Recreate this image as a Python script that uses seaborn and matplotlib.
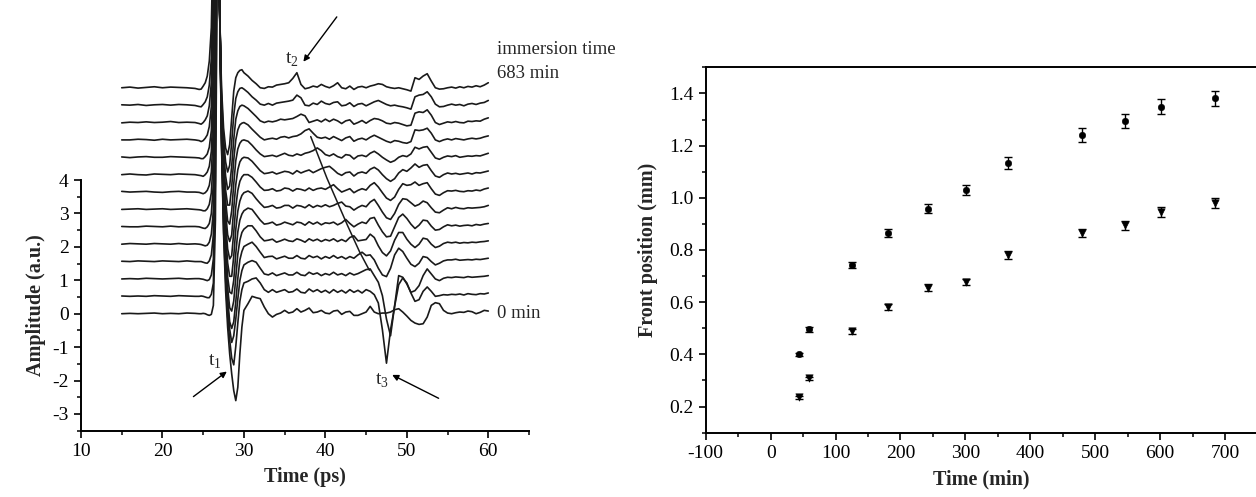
"""THz waveforms during immersion and front position vs time"""

import numpy as np
import pandas as pd
import seaborn as sns
import matplotlib.pyplot as plt
from matplotlib.ticker import MultipleLocator

# ---------------- data: left panel (waveforms) ----------------
# shared time grid (ps): coarse before the pulse, fine on the pulse, 0.5 ps after
time_ps = np.concatenate([np.arange(15, 25, 1.0),
                          np.arange(24.5, 30.01, 0.25),
                          np.arange(30.5, 60.01, 0.5)])

# vertical offset of every trace, bottom (0 min) to top (683 min)
trace_offsets = [0.0, 0.52, 1.04, 1.56, 2.08, 2.6, 3.12, 3.64, 4.16, 4.68, 5.2, 5.72, 6.24, 6.76]

# amplitude of each trace relative to its baseline, bottom to top
traces_rel = [
    # 0 min
    [0.0, 0.01, 0.0, 0.01, 0.02, 0.0, 0.01, 0.0, 0.02, 0.01,
     0.0, 0.0, 0.01, 0.0, -0.03, -0.05, -0.02, 0.25, 2.8, 11.5, 9.5, 5.0, 2.4, 0.7, -0.4, -1.2, -1.8, -2.3, -2.6, -2.2, -1.2, -0.4, 0.1,
     0.3, 0.52, 0.48, 0.45, 0.2, 0.0, -0.1, -0.02, 0.02, 0.1,
     0.02, 0.05, 0.15, 0.05, 0.1, 0.17, 0.03, 0.05, 0.1, 0.02,
     0.0, 0.08, 0.1, -0.02, 0.05, 0.07, -0.05, -0.05, 0.0, 0.05,
     0.22, 0.05, 0.0, 0.02, 0.02, 0.05, 0.12, 0.15, 0.05, -0.07,
     -0.2, -0.28, -0.32, -0.3, -0.1, 0.25, 0.33, 0.3, 0.1, 0.02,
     0.0, 0.03, 0.05, 0.04, 0.08, 0.06, 0.0, 0.04, 0.1, 0.08],
    [0.01, 0.0, 0.01, 0.0, 0.02, 0.01, 0.0, 0.02, 0.01, 0.0,
     0.0, 0.01, 0.0, -0.02, -0.04, -0.04, 0.06, 0.4, 3.5, 12.0, 9.0, 4.6, 2.0, 0.5, -0.6, -1.3, -1.85, -2.05, -1.5, -0.8, -0.15, 0.2, 0.4,
     0.45, 0.52, 0.55, 0.4, 0.2, 0.12, 0.2, 0.12, 0.16, 0.2,
     0.12, 0.14, 0.22, 0.12, 0.1, 0.22, 0.14, 0.2, 0.12, 0.18,
     0.1, 0.2, 0.12, 0.18, 0.1, 0.2, 0.12, 0.18, 0.1, 0.2,
     0.15, 0.05, -0.2, -1.0, -2.0, -1.0, -0.3, 0.35, 0.55, 0.4,
     0.1, -0.15, -0.1, 0.15, 0.28, 0.15, 0.0, 0.02, 0.05, 0.04,
     0.06, 0.05, 0.07, 0.04, 0.08, 0.06, 0.05, 0.08, 0.07, 0.1],
    [0.0, 0.01, 0.0, 0.02, 0.01, 0.0, 0.01, 0.02, 0.0, 0.01,
     0.01, 0.0, -0.01, -0.03, -0.05, -0.02, 0.12, 0.6, 4.5, 12.0, 8.5, 4.2, 1.8, 0.3, -0.8, -1.5, -1.9, -1.7, -1.2, -0.6, -0.05, 0.25, 0.42,
     0.5, 0.55, 0.5, 0.32, 0.15, 0.12, 0.18, 0.1, 0.14, 0.18,
     0.12, 0.12, 0.2, 0.12, 0.1, 0.2, 0.14, 0.18, 0.1, 0.16,
     0.12, 0.2, 0.12, 0.16, 0.1, 0.18, 0.12, 0.16, 0.22, 0.28,
     0.3, 0.1, -0.1, -0.5, -1.2, -1.7, -0.8, 0.1, 0.05, -0.15,
     -0.4, -0.35, -0.2, 0.1, 0.3, 0.15, 0.0, -0.05, 0.02, 0.05,
     0.04, 0.06, 0.05, 0.04, 0.07, 0.05, 0.06, 0.07, 0.08, 0.1],
    [0.01, 0.0, 0.02, 0.01, 0.0, 0.02, 0.01, 0.0, 0.02, 0.0,
     0.0, 0.0, -0.02, -0.04, -0.05, 0.02, 0.2, 0.8, 5.5, 12.0, 8.0, 3.8, 1.5, 0.0, -1.1, -1.8, -2.0, -1.8, -1.2, -0.5, 0.05, 0.3, 0.45,
     0.52, 0.58, 0.45, 0.28, 0.12, 0.15, 0.16, 0.08, 0.12, 0.16,
     0.1, 0.1, 0.18, 0.1, 0.08, 0.18, 0.12, 0.16, 0.08, 0.15,
     0.1, 0.18, 0.1, 0.15, 0.08, 0.15, 0.1, 0.2, 0.28, 0.18,
     0.2, 0.05, -0.2, -0.4, -0.45, -0.2, 0.2, 0.4, 0.3, 0.1,
     -0.08, -0.15, -0.05, 0.15, 0.12, 0.0, -0.1, -0.05, 0.02, 0.05,
     0.05, 0.07, 0.04, 0.05, 0.06, 0.05, 0.07, 0.06, 0.08, 0.1],
    [0.0, 0.02, 0.01, 0.0, 0.02, 0.01, 0.0, 0.02, 0.0, 0.01,
     0.0, -0.01, -0.03, -0.05, -0.03, 0.06, 0.3, 1.0, 6.5, 12.0, 7.5, 3.4, 1.2, -0.3, -1.3, -1.9, -2.0, -1.7, -1.0, -0.3, 0.12, 0.35, 0.45,
     0.55, 0.55, 0.4, 0.22, 0.1, 0.12, 0.15, 0.06, 0.1, 0.15,
     0.1, 0.08, 0.16, 0.12, 0.06, 0.16, 0.1, 0.15, 0.08, 0.14,
     0.1, 0.16, 0.08, 0.14, 0.08, 0.2, 0.25, 0.1, 0.12, 0.14,
     0.3, 0.2, -0.05, -0.25, -0.35, -0.2, 0.12, 0.35, 0.35, 0.15,
     0.0, -0.1, 0.0, 0.18, 0.15, 0.0, -0.1, -0.06, 0.02, 0.06,
     0.04, 0.06, 0.03, 0.05, 0.04, 0.06, 0.05, 0.07, 0.08, 0.1],
    [0.01, 0.0, 0.0, 0.02, 0.01, 0.0, 0.02, 0.0, 0.01, 0.01,
     0.0, -0.02, -0.04, -0.05, 0.0, 0.1, 0.4, 1.3, 7.2, 12.0, 7.0, 3.0, 0.9, -0.5, -1.5, -1.95, -2.0, -1.6, -0.8, -0.15, 0.2, 0.38, 0.48,
     0.56, 0.52, 0.36, 0.2, 0.08, 0.1, 0.14, 0.05, 0.08, 0.14,
     0.1, 0.06, 0.14, 0.12, 0.05, 0.15, 0.08, 0.14, 0.06, 0.12,
     0.1, 0.14, 0.06, 0.12, 0.22, 0.1, 0.0, 0.08, 0.14, 0.1,
     0.25, 0.28, 0.05, -0.15, -0.3, -0.28, 0.0, 0.28, 0.38, 0.25,
     0.08, -0.05, 0.05, 0.2, 0.18, 0.02, -0.1, -0.08, 0.0, 0.06,
     0.03, 0.05, 0.02, 0.04, 0.05, 0.03, 0.07, 0.05, 0.08, 0.1],
    [0.0, 0.01, 0.02, 0.0, 0.01, 0.02, 0.0, 0.01, 0.02, 0.0,
     -0.01, -0.02, -0.04, -0.04, 0.02, 0.15, 0.5, 1.6, 8.0, 11.5, 6.5, 2.6, 0.6, -0.7, -1.6, -2.0, -2.0, -1.4, -0.6, -0.05, 0.25, 0.42, 0.5,
     0.55, 0.48, 0.32, 0.18, 0.06, 0.08, 0.12, 0.04, 0.06, 0.12,
     0.12, 0.04, 0.12, 0.1, 0.05, 0.14, 0.06, 0.12, 0.08, 0.14,
     0.08, 0.12, 0.18, 0.22, 0.1, 0.08, -0.02, 0.06, 0.12, 0.08,
     0.22, 0.3, 0.12, -0.08, -0.25, -0.3, -0.12, 0.15, 0.32, 0.3,
     0.2, 0.1, 0.15, 0.25, 0.2, 0.05, -0.08, -0.1, -0.02, 0.05,
     0.02, 0.06, 0.03, 0.02, 0.05, 0.04, 0.05, 0.06, 0.08, 0.12],
    [0.02, 0.0, 0.01, 0.02, 0.0, -0.01, 0.01, 0.02, 0.0, 0.0,
     -0.01, -0.03, -0.05, -0.02, 0.05, 0.2, 0.6, 1.9, 8.5, 11.0, 6.0, 2.2, 0.3, -0.9, -1.7, -2.0, -1.9, -1.2, -0.45, 0.05, 0.32, 0.45, 0.52,
     0.52, 0.44, 0.3, 0.15, 0.05, 0.06, 0.1, 0.03, 0.05, 0.12,
     0.1, 0.03, 0.1, 0.08, 0.04, 0.12, 0.05, 0.1, 0.12, 0.08,
     0.15, 0.22, 0.1, 0.0, 0.05, 0.1, -0.02, 0.05, 0.1, 0.06,
     0.2, 0.28, 0.15, -0.02, -0.18, -0.25, -0.15, 0.08, 0.25, 0.2,
     0.22, 0.3, 0.2, 0.25, 0.28, 0.1, -0.06, -0.1, -0.02, 0.04,
     0.03, 0.05, 0.02, 0.01, 0.04, 0.03, 0.06, 0.04, 0.09, 0.12],
    [0.0, 0.02, 0.0, -0.01, 0.02, 0.01, 0.0, 0.02, 0.01, 0.0,
     -0.02, -0.03, -0.05, 0.0, 0.08, 0.25, 0.7, 2.2, 9.0, 10.5, 5.5, 1.8, 0.0, -1.1, -1.8, -2.0, -1.8, -1.0, -0.3, 0.15, 0.38, 0.48, 0.52,
     0.5, 0.4, 0.26, 0.12, 0.03, 0.05, 0.08, 0.02, 0.06, 0.1,
     0.08, 0.02, 0.12, 0.05, 0.1, 0.14, 0.06, 0.12, 0.18, 0.22,
     0.25, 0.15, 0.04, -0.02, 0.06, 0.08, -0.04, 0.05, 0.08, 0.04,
     0.16, 0.22, 0.14, 0.0, -0.12, -0.2, -0.12, 0.05, 0.15, 0.1,
     0.2, 0.32, 0.22, 0.28, 0.3, 0.12, -0.04, -0.08, 0.0, 0.05,
     0.02, 0.04, 0.01, 0.03, 0.05, 0.02, 0.06, 0.05, 0.08, 0.11],
    [0.01, -0.01, 0.01, 0.02, 0.0, 0.0, 0.02, 0.01, 0.0, -0.01,
     -0.02, -0.04, -0.04, 0.02, 0.1, 0.3, 0.8, 2.6, 9.8, 10.0, 4.8, 1.3, -0.3, -1.3, -1.9, -2.0, -1.6, -0.8, -0.1, 0.25, 0.42, 0.5, 0.52,
     0.48, 0.36, 0.22, 0.1, 0.02, 0.04, 0.06, 0.02, 0.07, 0.12,
     0.06, 0.04, 0.1, 0.06, 0.12, 0.15, 0.2, 0.28, 0.2, 0.08,
     0.04, 0.1, 0.02, -0.02, 0.08, 0.06, -0.05, 0.04, 0.06, 0.02,
     0.12, 0.18, 0.1, 0.0, -0.08, -0.15, -0.1, 0.0, 0.05, 0.02,
     0.1, 0.3, 0.25, 0.3, 0.32, 0.15, -0.02, -0.06, 0.0, 0.04,
     0.02, 0.05, 0.0, 0.02, 0.04, 0.03, 0.05, 0.04, 0.08, 0.12],
    [0.0, 0.0, 0.02, 0.01, -0.01, 0.02, 0.0, 0.01, 0.02, 0.0,
     -0.02, -0.05, -0.02, 0.05, 0.15, 0.4, 1.0, 3.2, 10.5, 9.5, 4.0, 0.9, -0.6, -1.5, -1.95, -1.95, -1.4, -0.6, 0.0, 0.3, 0.45, 0.5, 0.52,
     0.45, 0.32, 0.2, 0.08, 0.0, 0.03, 0.05, 0.02, 0.08, 0.1,
     0.06, 0.1, 0.12, 0.18, 0.28, 0.33, 0.2, 0.08, 0.05, 0.08,
     0.02, 0.1, 0.04, -0.02, 0.06, 0.1, -0.04, 0.02, 0.05, 0.0,
     0.08, 0.14, 0.08, 0.02, -0.04, -0.08, -0.02, -0.04, -0.08, -0.1,
     -0.05, 0.3, 0.28, 0.3, 0.35, 0.2, 0.0, -0.05, 0.0, 0.03,
     0.0, 0.04, 0.02, 0.0, 0.03, 0.05, 0.03, 0.05, 0.09, 0.12],
    [-0.01, 0.01, 0.0, 0.02, 0.0, 0.01, 0.03, 0.0, 0.01, 0.0,
     -0.03, -0.05, 0.0, 0.08, 0.2, 0.5, 1.2, 3.8, 11.0, 9.0, 3.5, 0.6, -0.8, -1.6, -2.0, -1.9, -1.3, -0.5, 0.1, 0.35, 0.48, 0.52, 0.5,
     0.42, 0.3, 0.18, 0.05, 0.0, 0.04, 0.02, 0.05, 0.1, 0.08,
     0.1, 0.12, 0.18, 0.25, 0.2, 0.0, 0.04, 0.08, 0.02, 0.1,
     0.03, 0.1, 0.05, -0.03, 0.05, 0.08, -0.05, 0.0, 0.06, -0.02,
     0.06, 0.12, 0.1, 0.05, -0.02, -0.04, 0.0, -0.02, -0.06, -0.1,
     -0.08, 0.28, 0.32, 0.3, 0.38, 0.22, 0.0, -0.06, -0.02, 0.02,
     0.0, 0.03, 0.0, -0.01, 0.04, 0.03, 0.05, 0.04, 0.1, 0.14],
    [0.01, 0.0, 0.02, -0.01, 0.01, 0.02, 0.0, 0.02, 0.01, -0.01,
     -0.04, -0.05, 0.02, 0.1, 0.25, 0.6, 1.4, 4.2, 11.5, 8.5, 3.0, 0.3, -1.0, -1.7, -2.0, -1.8, -1.1, -0.3, 0.2, 0.4, 0.5, 0.52, 0.48,
     0.38, 0.25, 0.15, 0.03, 0.0, 0.05, 0.0, 0.06, 0.08, 0.1,
     0.12, 0.15, 0.3, 0.22, 0.0, -0.02, 0.06, 0.02, 0.12, 0.05,
     0.02, 0.08, 0.1, -0.02, 0.0, 0.07, -0.04, 0.03, 0.05, -0.02,
     0.04, 0.1, 0.14, 0.08, 0.02, -0.02, 0.0, -0.03, -0.05, -0.08,
     -0.12, 0.25, 0.3, 0.32, 0.4, 0.25, 0.03, -0.05, -0.04, 0.0,
     0.03, 0.0, 0.02, -0.02, 0.03, 0.05, 0.02, 0.06, 0.08, 0.14],
    # 683 min
    [0.0, 0.02, -0.01, 0.01, 0.03, 0.0, 0.02, 0.01, 0.0, -0.02,
     -0.05, -0.04, 0.05, 0.15, 0.35, 0.8, 1.8, 5.0, 12.0, 7.5, 2.5, 0.0, -1.2, -1.8, -2.0, -1.7, -0.9, -0.1, 0.3, 0.45, 0.52, 0.54, 0.45,
     0.35, 0.22, 0.12, 0.0, -0.02, 0.03, 0.02, 0.08, 0.1, 0.12,
     0.15, 0.28, 0.45, 0.1, -0.03, 0.0, 0.05, 0.02, 0.1, 0.04,
     0.0, 0.06, 0.15, 0.0, -0.03, 0.05, -0.05, 0.02, 0.04, 0.0,
     0.05, 0.08, 0.12, 0.1, 0.03, 0.0, -0.02, 0.0, -0.03, -0.06,
     -0.1, 0.3, 0.25, 0.35, 0.42, 0.2, 0.0, -0.04, -0.03, 0.0,
     0.02, -0.01, 0.03, 0.0, 0.04, 0.02, 0.06, 0.03, 0.08, 0.15],
]

# guide line following the moving reflection t2
guide_t = [38.2, 40.2, 42.7, 44.2, 45.4]
guide_amp = [5.3, 4.05, 2.65, 1.85, 1.3]

# ---------------- data: right panel (front position) ----------------
time_min = [43, 59, 126, 181, 243, 301, 366, 480, 546, 601, 684]
front_circle = [0.40, 0.496, 0.743, 0.865, 0.959, 1.029, 1.133, 1.240, 1.296, 1.350, 1.381]
err_circle = [0.007, 0.009, 0.011, 0.015, 0.019, 0.020, 0.024, 0.027, 0.027, 0.027, 0.028]
front_triangle = [0.236, 0.309, 0.488, 0.582, 0.655, 0.677, 0.781, 0.865, 0.894, 0.945, 0.980]
err_triangle = [0.006, 0.006, 0.009, 0.011, 0.014, 0.012, 0.015, 0.014, 0.017, 0.019, 0.019]

# ---------------- style ----------------
sns.set_theme(style='ticks')
plt.rcParams['font.family'] = ['Liberation Serif', 'DejaVu Serif']
plt.rcParams['mathtext.fontset'] = 'custom'
plt.rcParams['mathtext.rm'] = 'Liberation Serif'
plt.rcParams['axes.unicode_minus'] = False
plt.rcParams['axes.linewidth'] = 1.4
plt.rcParams['axes.edgecolor'] = 'black'
plt.rcParams['xtick.color'] = 'black'
plt.rcParams['ytick.color'] = 'black'

fig = plt.figure(figsize=(12.56, 4.97), dpi=100)
ax1 = fig.add_axes([0.0645, 0.1334, 0.3567, 0.5044])
ax2 = fig.add_axes([0.5619, 0.1296, 0.4393, 0.7348])

# ---------------- left panel ----------------
rows = []
for i, (off, tr) in enumerate(zip(trace_offsets, traces_rel)):
    assert len(tr) == len(time_ps), (i, len(tr))
    rows.append(pd.DataFrame({'time': time_ps, 'amp': np.array(tr) + off, 'trace': i}))
waves = pd.concat(rows, ignore_index=True)

sns.lineplot(data=waves, x='time', y='amp', units='trace', estimator=None, sort=False,
             color='#1a1a1a', linewidth=1.2, ax=ax1)
ax1.plot(guide_t, guide_amp, color='#1a1a1a', lw=1.1)
for ln in ax1.lines:
    ln.set_clip_on(False)

ax1.set_xlim(10, 65)
ax1.set_ylim(-3.5, 4)
ax1.spines['top'].set_visible(False)
ax1.spines['right'].set_visible(False)
ax1.xaxis.set_major_locator(MultipleLocator(10))
ax1.xaxis.set_minor_locator(MultipleLocator(5))
ax1.yaxis.set_major_locator(MultipleLocator(1))
ax1.yaxis.set_minor_locator(MultipleLocator(0.5))
ax1.set_xlabel('Time (ps)', fontsize=14.5, fontweight='bold', labelpad=5)
ax1.set_ylabel('Amplitude (a.u.)', fontsize=14.5, fontweight='bold', labelpad=4)

ax1.text(61.1, 7.9, 'immersion time', fontsize=13.5, va='center')
ax1.text(61.1, 7.2, '683 min', fontsize=13.5, va='center')
ax1.text(61.1, 0.0, '0 min', fontsize=13.5, va='center')

arrow = dict(arrowstyle='-|>', color='black', lw=1.0, mutation_scale=9, shrinkA=0, shrinkB=0)
ax1.annotate('', xy=(27.9, -1.73), xytext=(23.8, -2.48), arrowprops=arrow, annotation_clip=False)
ax1.text(26.45, -1.45, r'$\mathrm{t}_1$', fontsize=14, ha='center', va='center')
ax1.annotate('', xy=(48.2, -1.83), xytext=(53.9, -2.53), arrowprops=arrow, annotation_clip=False)
ax1.text(46.9, -2.0, r'$\mathrm{t}_3$', fontsize=14, ha='center', va='center')
ax1.annotate('', xy=(37.3, 7.54), xytext=(41.4, 8.88), arrowprops=arrow, annotation_clip=False)
ax1.text(35.9, 7.6, r'$\mathrm{t}_2$', fontsize=14, ha='center', va='center')

# ---------------- right panel ----------------
sns.scatterplot(x=time_min, y=front_circle, marker='o', s=22, color='black', edgecolor='black', ax=ax2)
sns.scatterplot(x=time_min, y=front_triangle, marker='v', s=28, color='black', edgecolor='black', ax=ax2)
ax2.errorbar(time_min, front_circle, yerr=err_circle, fmt='none', ecolor='black', elinewidth=1.0, capsize=3, capthick=1.0)
ax2.errorbar(time_min, front_triangle, yerr=err_triangle, fmt='none', ecolor='black', elinewidth=1.0, capsize=3, capthick=1.0)

ax2.set_xlim(-100, 750)
ax2.set_ylim(0.1, 1.5)
ax2.spines['right'].set_visible(False)
ax2.xaxis.set_major_locator(MultipleLocator(100))
ax2.xaxis.set_minor_locator(MultipleLocator(50))
ax2.yaxis.set_minor_locator(MultipleLocator(0.1))
ax2.set_yticks([0.2, 0.4, 0.6, 0.8, 1.0, 1.2, 1.4])
ax2.set_xlabel('Time (min)', fontsize=14.5, fontweight='bold', labelpad=5)
ax2.set_ylabel('Front position (mm)', fontsize=14.5, fontweight='bold', labelpad=8)

for ax in (ax1, ax2):
    ax.tick_params(which='major', direction='out', length=5, width=1.2, labelsize=14, pad=4)
    ax.tick_params(which='minor', direction='out', length=3, width=1.1)

plt.savefig('out.png', dpi=100)
